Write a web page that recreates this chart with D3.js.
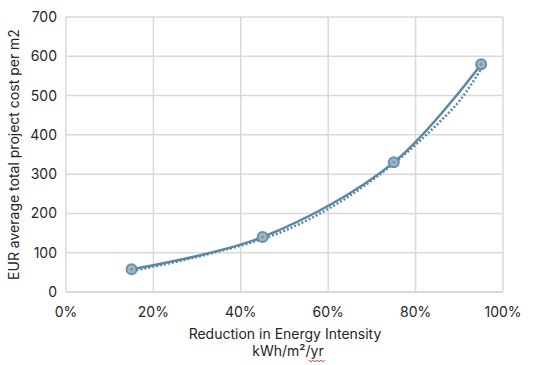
<!DOCTYPE html>
<html>
<head>
<meta charset="utf-8">
<script src="https://cdn.jsdelivr.net/npm/d3@7"></script>
<style>
  body { margin: 0; background: #fff; }
  svg { display: block; font-family: Inter, "Open Sans", sans-serif; }
</style>
</head>
<body>
<div id="chart"></div>
<script>
// ── Data ──
const reductions = [0.15, 0.45, 0.75, 0.95];
const costs = [58, 140, 330, 580];

// trendline (dotted)
const trendX = [0.15, 0.20, 0.25, 0.30, 0.35, 0.40, 0.45, 0.50, 0.55, 0.60, 0.65, 0.70, 0.75, 0.80, 0.85, 0.90, 0.95];
const trendY = [57, 68, 80, 93, 107, 122, 139, 160, 186, 216, 250, 289, 332, 380, 433, 492, 575];

const xTicks = [0, 0.2, 0.4, 0.6, 0.8, 1.0];
const yTicks = [0, 100, 200, 300, 400, 500, 600, 700];

const W = 547, H = 365;
const margin = { left: 66, right: 44, top: 17, bottom: 73 };

const svg = d3.select('#chart').append('svg')
  .attr('width', W).attr('height', H);

const x = d3.scaleLinear().domain([0, 1]).range([margin.left, W - margin.right]);
const y = d3.scaleLinear().domain([0, 700]).range([H - margin.bottom, margin.top]);

const gridColor = '#d9d9d9';
const lineColor = '#5b87a3';
const textColor = '#262626';

// ── Grid ──
svg.append('g').selectAll('line').data(yTicks).join('line')
  .attr('x1', x(0)).attr('x2', x(1))
  .attr('y1', d => y(d)).attr('y2', d => y(d))
  .attr('stroke', gridColor).attr('stroke-width', d => d === 0 ? 2 : 1.5);

svg.append('g').selectAll('line').data(xTicks).join('line')
  .attr('y1', y(0)).attr('y2', y(700))
  .attr('x1', d => x(d)).attr('x2', d => x(d))
  .attr('stroke', gridColor).attr('stroke-width', 1.5);

// ── Tick labels ──
svg.append('g').selectAll('text').data(yTicks).join('text')
  .attr('x', x(0) - 9).attr('y', d => y(d) + 5)
  .attr('text-anchor', 'end')
  .attr('font-size', 14).attr('fill', textColor)
  .text(d => d);

svg.append('g').selectAll('text').data(xTicks).join('text')
  .attr('x', d => x(d)).attr('y', y(0) + 25)
  .attr('text-anchor', 'middle')
  .attr('font-size', 14).attr('fill', textColor)
  .text(d3.format('.0%'));

// ── Axis titles ──
svg.append('text')
  .attr('transform', 'translate(19,' + ((y(0) + y(700)) / 2) + ') rotate(-90)')
  .attr('text-anchor', 'middle')
  .attr('font-size', 14).attr('fill', textColor)
  .text('EUR average total project cost per m2');

svg.append('text')
  .attr('x', 285).attr('y', 339)
  .attr('text-anchor', 'middle')
  .attr('font-size', 14).attr('fill', textColor)
  .text('Reduction in Energy Intensity');

const unit = svg.append('text')
  .attr('x', 288).attr('y', 356)
  .attr('text-anchor', 'middle')
  .attr('font-size', 14).attr('fill', textColor)
  .text('kWh/m²/yr');

// spell-check squiggle under "yr"
const bb = unit.node().getBBox();
const sqX0 = bb.x + bb.width - 15, sqX1 = bb.x + bb.width;
let sq = 'M' + sqX0 + ',360';
for (let i = sqX0, k = 0; i < sqX1; i += 2, k++) {
  sq += ' L' + (i + 2) + ',' + (k % 2 ? 360 : 362);
}
svg.append('path').attr('d', sq).attr('fill', 'none')
  .attr('stroke', '#e03030').attr('stroke-width', 1);

// ── Trendline (dotted) ──
const trend = trendX.map((d, i) => [d, trendY[i]]);
svg.append('path')
  .datum(trend)
  .attr('d', d3.line().x(d => x(d[0]) + 1).y(d => y(d[1]) + 1.2).curve(d3.curveCatmullRom))
  .attr('fill', 'none').attr('stroke', lineColor)
  .attr('stroke-width', 2.5).attr('stroke-dasharray', '2,2');

// ── Series line ──
const pts = reductions.map((d, i) => [d, costs[i]]);
svg.append('path')
  .datum(pts)
  .attr('d', d3.line().x(d => x(d[0])).y(d => y(d[1])).curve(d3.curveCatmullRom.alpha(0.5)))
  .attr('fill', 'none').attr('stroke', lineColor).attr('stroke-width', 2.5);

// ── Markers ──
const mk = svg.append('g').selectAll('g').data(pts).join('g')
  .attr('transform', d => 'translate(' + x(d[0]) + ',' + y(d[1]) + ')');
mk.append('circle').attr('r', 5)
  .attr('fill', '#9db4c6').attr('stroke', '#6a8fa8').attr('stroke-width', 2);
mk.append('circle').attr('r', 1.2).attr('fill', '#6a8fa8');
</script>
</body>
</html>
